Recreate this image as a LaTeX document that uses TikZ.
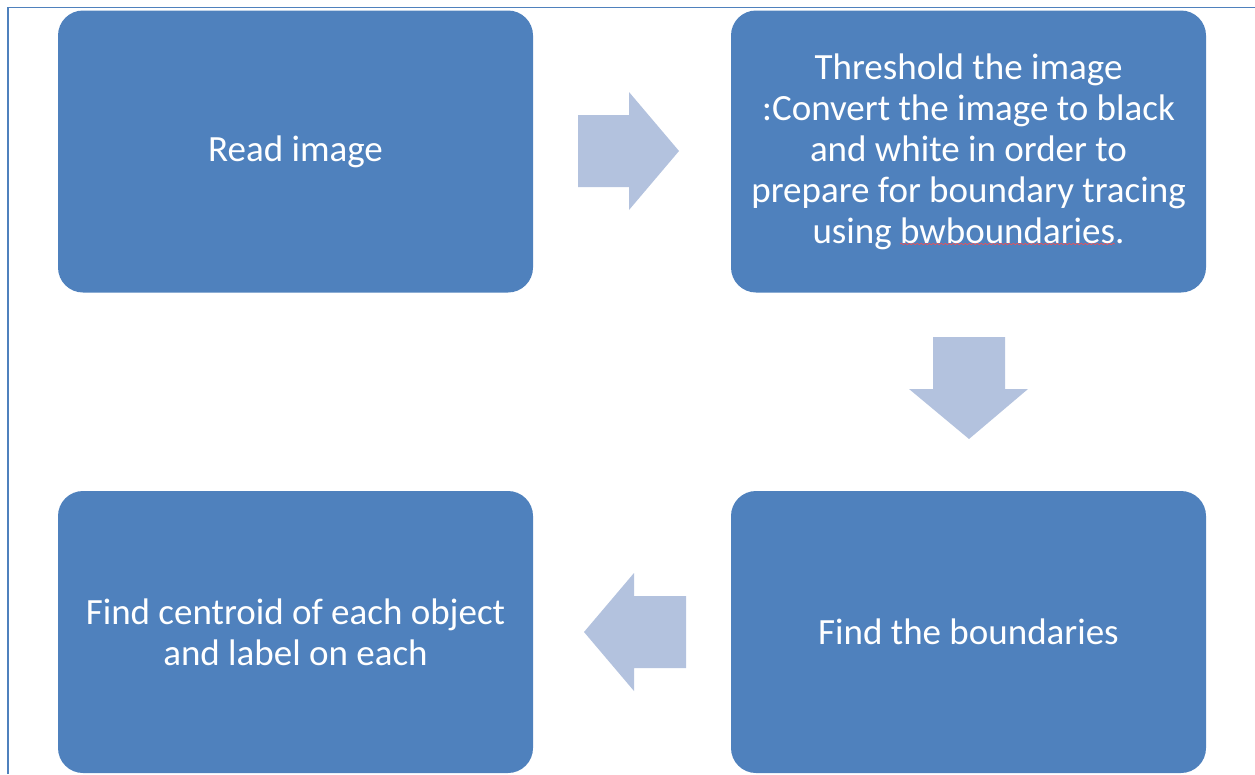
\documentclass[tikz,border=0pt]{standalone}
\usepackage{fontspec}
\setmainfont{Carlito}
\usetikzlibrary{decorations.pathmorphing}
\definecolor{boxblue}{HTML}{4F81BD}
\definecolor{arrowblue}{HTML}{B3C2DE}
\definecolor{framecol}{HTML}{4F81BD}
\begin{document}
\begin{tikzpicture}[x=1pt,y=-1pt,
  stepbox/.style={fill=boxblue, draw=none, rounded corners=25pt,
    minimum width=475pt, minimum height=282pt, inner sep=0pt,
    text=white, align=center, font=\fontsize{37}{41}\selectfont},
  flowarrow/.style={fill=arrowblue, draw=none},
  squiggle/.style={draw=red!70!white, line width=0.6pt, decorate,
    decoration={snake, amplitude=0.6pt, segment length=4pt}}]
\useasboundingbox (0,0) rectangle (1255,774);
\draw[framecol, line width=1.5pt] (8,774) -- (8,7.5) -- (1255,7.5);

\node[stepbox] (read) at (295.5,151.5) {Read image};
\node[stepbox] (thresh) at (968.5,151.5) {Threshold the image\\:Convert the image to black\\and white in order to\\prepare for boundary tracing\\using bwboundaries.};
\node[stepbox] (bound) at (968.5,632) {Find the boundaries};
\node[stepbox] (cent) at (295.5,632) {Find centroid of each object\\and label on each};

% right arrow
\fill[flowarrow] (578,115) -- (629,115) -- (629,92) -- (679,151) -- (629,210) -- (629,187) -- (578,187) -- cycle;
% down arrow
\fill[flowarrow] (933,337) -- (1005,337) -- (1005,389) -- (1028,389) -- (969,439) -- (909,389) -- (933,389) -- cycle;
% left arrow
\fill[flowarrow] (686,596) -- (634,596) -- (634,573) -- (584,632) -- (634,691) -- (634,668) -- (686,668) -- cycle;

\coordinate (sqa) at (900,244);
\coordinate (sqb) at (1115,244);
\draw[squiggle] (sqa) -- (sqb);
\end{tikzpicture}
\end{document}
